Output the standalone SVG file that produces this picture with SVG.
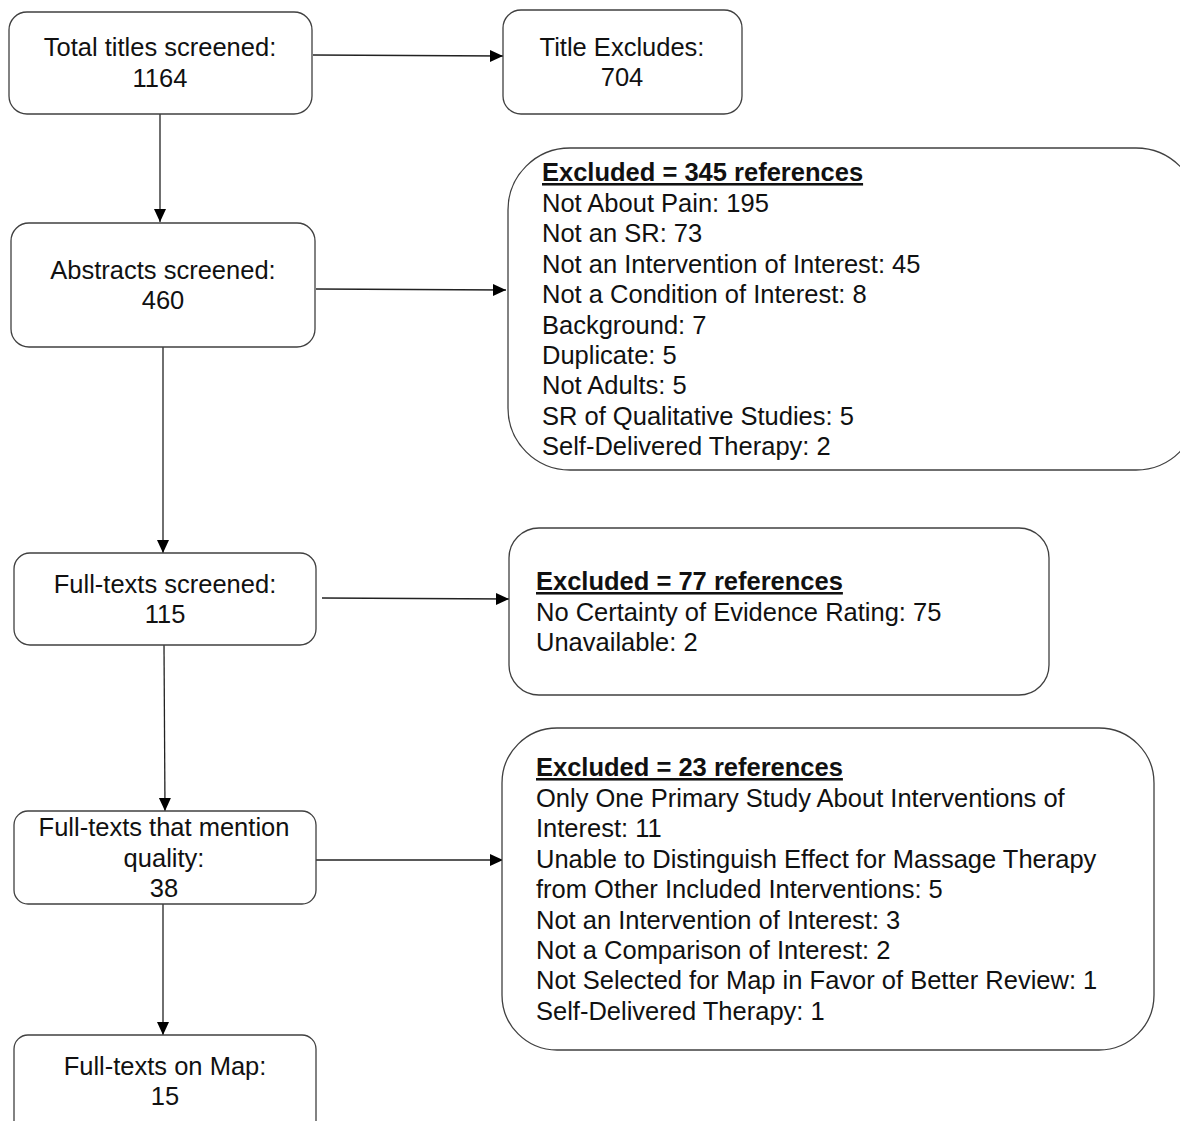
<svg xmlns="http://www.w3.org/2000/svg" width="1180" height="1121" viewBox="0 0 1180 1121">
<style>
.box{fill:#fff;stroke:#404040;stroke-width:1.3}
.t{font-family:"Liberation Sans",Arial,sans-serif;font-size:25.5px;fill:#111}
.c{text-anchor:middle}
.h{font-weight:bold;text-decoration:underline}
.ln{stroke:#222;stroke-width:1.3;fill:none}
</style>
<defs>
<marker id="ah" markerWidth="14" markerHeight="14" refX="13" refY="7" orient="auto" markerUnits="userSpaceOnUse">
<path d="M0,1 L13,7 L0,13 Z" fill="#000"/>
</marker>
</defs>
<rect width="1180" height="1121" fill="#fff"/>
<g id="connectors">
<line class="ln" x1="313" y1="55" x2="503" y2="56" marker-end="url(#ah)"/>
<line class="ln" x1="160" y1="114" x2="160" y2="222" marker-end="url(#ah)"/>
<line class="ln" x1="316" y1="289" x2="506" y2="290" marker-end="url(#ah)"/>
<line class="ln" x1="163" y1="347" x2="163" y2="553" marker-end="url(#ah)"/>
<line class="ln" x1="322" y1="598" x2="509" y2="599" marker-end="url(#ah)"/>
<line class="ln" x1="164" y1="645" x2="165" y2="811" marker-end="url(#ah)"/>
<line class="ln" x1="316" y1="860" x2="503" y2="860" marker-end="url(#ah)"/>
<line class="ln" x1="163" y1="904" x2="163" y2="1035" marker-end="url(#ah)"/>
</g>
<g id="n1">
<rect class="box" x="9" y="12" width="303" height="102" rx="18"/>
<text class="t c" x="160" y="56">Total titles screened:</text>
<text class="t c" x="160" y="87">1164</text>
</g>
<g id="n2">
<rect class="box" x="503" y="10" width="239" height="104" rx="18"/>
<text class="t c" x="622" y="56">Title Excludes:</text>
<text class="t c" x="622" y="86">704</text>
</g>
<g id="n3">
<rect class="box" x="11" y="223" width="304" height="124" rx="18"/>
<text class="t c" x="163" y="279">Abstracts screened:</text>
<text class="t c" x="163" y="309">460</text>
</g>
<g id="n4">
<rect class="box" x="508" y="148" width="690" height="322" rx="62"/>
<text class="t h" x="542" y="181">Excluded = 345 references</text>
<text class="t" x="542" y="212">Not About Pain: 195</text>
<text class="t" x="542" y="242">Not an SR: 73</text>
<text class="t" x="542" y="273">Not an Intervention of Interest: 45</text>
<text class="t" x="542" y="303">Not a Condition of Interest: 8</text>
<text class="t" x="542" y="334">Background: 7</text>
<text class="t" x="542" y="364">Duplicate: 5</text>
<text class="t" x="542" y="394">Not Adults: 5</text>
<text class="t" x="542" y="425">SR of Qualitative Studies: 5</text>
<text class="t" x="542" y="455">Self-Delivered Therapy: 2</text>
</g>
<g id="n5">
<rect class="box" x="14" y="553" width="302" height="92" rx="16"/>
<text class="t c" x="165" y="593">Full-texts screened:</text>
<text class="t c" x="165" y="623">115</text>
</g>
<g id="n6">
<rect class="box" x="509" y="528" width="540" height="167" rx="30"/>
<text class="t h" x="536" y="590">Excluded = 77 references</text>
<text class="t" x="536" y="621">No Certainty of Evidence Rating: 75</text>
<text class="t" x="536" y="651">Unavailable: 2</text>
</g>
<g id="n7">
<rect class="box" x="14" y="811" width="302" height="93" rx="14"/>
<text class="t c" x="164" y="836">Full-texts that mention</text>
<text class="t c" x="164" y="867">quality:</text>
<text class="t c" x="164" y="897">38</text>
</g>
<g id="n8">
<rect class="box" x="502" y="728" width="652" height="322" rx="55"/>
<text class="t h" x="536" y="776">Excluded = 23 references</text>
<text class="t" x="536" y="807">Only One Primary Study About Interventions of</text>
<text class="t" x="536" y="837">Interest: 11</text>
<text class="t" x="536" y="868">Unable to Distinguish Effect for Massage Therapy</text>
<text class="t" x="536" y="898">from Other Included Interventions: 5</text>
<text class="t" x="536" y="929">Not an Intervention of Interest: 3</text>
<text class="t" x="536" y="959">Not a Comparison of Interest: 2</text>
<text class="t" x="536" y="989">Not Selected for Map in Favor of Better Review: 1</text>
<text class="t" x="536" y="1020">Self-Delivered Therapy: 1</text>
</g>
<g id="n9">
<rect class="box" x="14" y="1035" width="302" height="100" rx="14"/>
<text class="t c" x="165" y="1075">Full-texts on Map:</text>
<text class="t c" x="165" y="1105">15</text>
</g>
</svg>
